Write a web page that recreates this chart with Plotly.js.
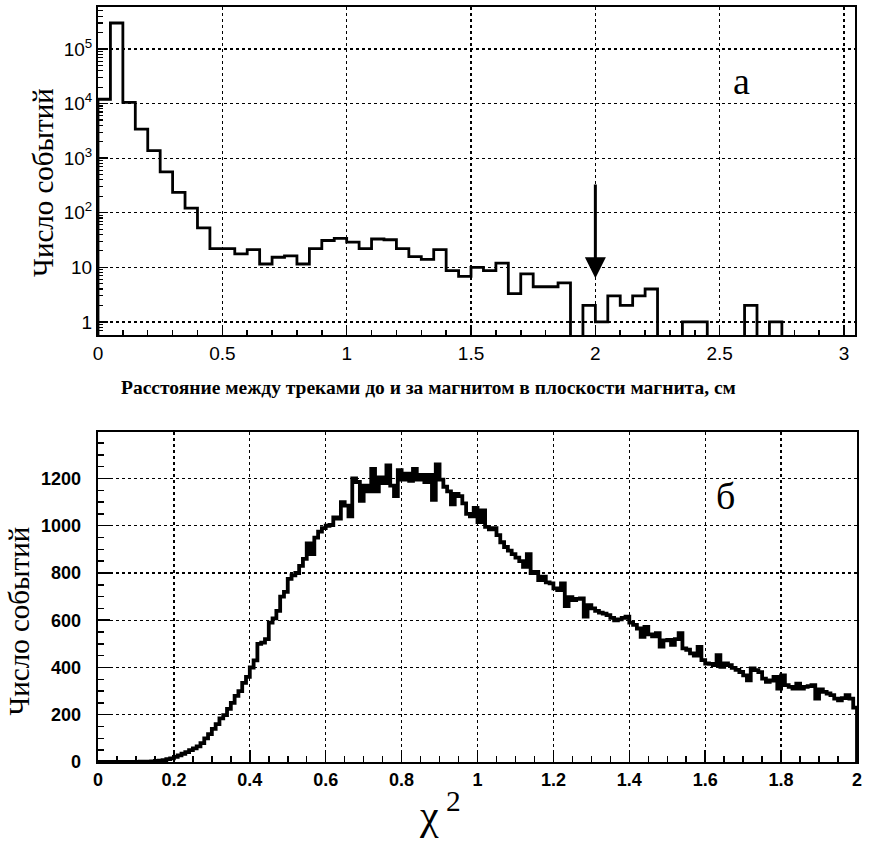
<!DOCTYPE html>
<html>
<head>
<meta charset="utf-8">
<script src="https://cdn.plot.ly/plotly-3.0.1.min.js"></script>
<style>
  html, body { margin: 0; padding: 0; background: #fff; }
  #chart { width: 872px; height: 843px; }
</style>
</head>
<body>
<div id="chart"></div>
<script>
// ---------- Panel (а): track distance histogram, log scale ----------
const topBinStart = 0;
const topBinWidth = 0.05;
const topCounts = [
  12000, 300000, 10500, 3400, 1370, 560, 237, 121, 53, 22,
  22, 17.6, 21, 11.5, 15.3, 16.2, 11.5, 22, 31, 34,
  29, 22, 33, 32, 22, 15.7, 14, 21, 8.7, 6.8,
  10, 8.7, 11.9, 3.3, 7.6, 4.4, 4.4, 5.2, 0, 2,
  1, 3, 2, 3, 4, 0, 0, 1, 1, 0,
  0, 0, 2, 0, 1, 0, 0, 0, 0, 0
];
const topYTickVals = [1, 10, 100, 1000, 10000, 100000];
const topYTickText = ['1', '10', '10<sup>2</sup>', '10<sup>3</sup>', '10<sup>4</sup>', '10<sup>5</sup>'];
const topXTickVals = [0, 0.5, 1, 1.5, 2, 2.5, 3];
const topXTickText = ['0', '0.5', '1', '1.5', '2', '2.5', '3'];
const arrowX = 2.0;
const arrowFrom = 350;
const arrowTo = 6.3;

// ---------- Panel (б): chi-square histogram ----------
const botBinStart = 0;
const botBinWidth = 0.01;
const botCounts = [
  0, 0, 0, 0, 0, 0, 0, 0, 0, 0,
  0, 1, 1, 2, 3, 5, 6, 8, 12, 15,
  22, 28, 35, 42, 50, 58, 66, 80, 100, 118,
  140, 160, 185, 198, 225, 250, 280, 300, 335, 360,
  400, 430, 500, 505, 520, 590, 608, 640, 700, 720,
  775, 790, 800, 830, 860, 925, 880, 950, 975, 990,
  1000, 1003, 1035, 1030, 1100, 1085, 1040, 1200, 1185, 1105,
  1170, 1145, 1240, 1145, 1205, 1180, 1255, 1170, 1125, 1235,
  1195, 1220, 1190, 1240, 1195, 1215, 1185, 1215, 1110, 1260,
  1195, 1165, 1145, 1090, 1135, 1125, 1095, 1050, 1040, 1075,
  1015, 1065, 995, 985, 990, 960, 930, 910, 895, 880,
  865, 850, 826, 880, 800, 805, 770, 785, 760, 756,
  735, 728, 756, 660, 698, 685, 690, 692, 615, 664,
  650, 640, 632, 628, 622, 610, 600, 604, 610, 615,
  590, 580, 565, 530, 572, 540, 532, 545, 488, 515,
  517, 496, 520, 545, 481, 475, 460, 450, 487, 431,
  417, 415, 410, 452, 403, 417, 410, 398, 390, 381,
  367, 346, 396, 389, 380, 353, 339, 345, 360, 311,
  367, 325, 318, 311, 332, 311, 318, 321, 325, 268,
  307, 297, 290, 283, 268, 261, 270, 283, 268, 230
];
const botXTickVals = [0, 0.2, 0.4, 0.6, 0.8, 1, 1.2, 1.4, 1.6, 1.8, 2];
const botXTickText = ['0', '0.2', '0.4', '0.6', '0.8', '1', '1.2', '1.4', '1.6', '1.8', '2'];
const botYTickVals = [0, 200, 400, 600, 800, 1000, 1200];
const botYTickText = ['0', '200', '400', '600', '800', '1000', '1200'];

const yTitle = 'Число событий';
const topXTitle = 'Расстояние между треками до и за магнитом в плоскости магнита, см';
const labelA = 'а';
const labelB = 'б';
const chiTitle = 'χ<sup> 2</sup>';

// Build step outline (histogram contour) from bin contents.
function stepOutline(start, width, counts, floorVal) {
  const xs = [start], ys = [floorVal];
  for (let i = 0; i < counts.length; i++) {
    xs.push(start + i * width);
    ys.push(counts[i] > 0 ? counts[i] : floorVal);
  }
  const end = start + counts.length * width;
  xs.push(end); ys.push(floorVal);
  return { xs, ys };
}

const topStep = stepOutline(topBinStart, topBinWidth, topCounts, 0.05);
const botStep = stepOutline(botBinStart, botBinWidth, botCounts, 0);

const traces = [
  {
    x: topStep.xs, y: topStep.ys, xaxis: 'x', yaxis: 'y',
    type: 'scatter', mode: 'lines',
    line: { shape: 'hv', color: '#000', width: 2.8 },
    hoverinfo: 'skip', showlegend: false
  },
  {
    x: botStep.xs, y: botStep.ys, xaxis: 'x2', yaxis: 'y3',
    type: 'scatter', mode: 'lines',
    line: { shape: 'hv', color: '#000', width: 3.8 },
    hoverinfo: 'skip', showlegend: false
  }
];

const serif = 'Liberation Serif, Times New Roman, serif';
const sans = 'Liberation Sans, Arial, Helvetica, sans-serif';

const axisCommon = {
  showline: true, linecolor: '#000', linewidth: 2, mirror: true,
  showgrid: true, gridcolor: '#000', gridwidth: 1.3, griddash: 'dot',
  zeroline: false, ticks: 'inside', tickcolor: '#000', tickwidth: 1.5,
  tickmode: 'array'
};

const botYRange = [0, 1398];

const layout = {
  width: 872, height: 843,
  paper_bgcolor: '#fff', plot_bgcolor: '#fff',
  margin: { l: 97.5, r: 14.5, t: 7, b: 81 },
  font: { family: sans, color: '#000' },
  showlegend: false,
  xaxis: Object.assign({}, axisCommon, {
    domain: [0, 0.998], anchor: 'y',
    range: [0, 3.046],
    tickvals: topXTickVals, ticktext: topXTickText,
    ticklen: 10,
    tickfont: { family: sans, size: 19, color: '#000' },
    minor: { dtick: 0.1, tick0: 0, ticks: 'inside', ticklen: 5, tickcolor: '#000', tickwidth: 1.5, showgrid: false }
  }),
  yaxis: Object.assign({}, axisCommon, {
    domain: [0.5656, 1], anchor: 'x', type: 'log',
    range: [-0.24, 5.77],
    tickvals: topYTickVals, ticktext: topYTickText,
    ticklen: 10,
    tickfont: { family: sans, size: 19, color: '#000' },
    minor: { dtick: 'D1', ticks: 'inside', ticklen: 5, tickcolor: '#000', tickwidth: 1.2, showgrid: false }
  }),
  xaxis2: Object.assign({}, axisCommon, {
    domain: [0, 1], anchor: 'y2',
    range: [0, 2],
    tickvals: botXTickVals, ticktext: botXTickText,
    ticklen: 12,
    tickfont: { family: sans, size: 18, color: '#000', weight: 'bold' },
    minor: { dtick: 0.05, tick0: 0, ticks: 'inside', ticklen: 6, tickcolor: '#000', tickwidth: 1.5, showgrid: false }
  }),
  yaxis2: Object.assign({}, axisCommon, {
    domain: [0, 0.4375], anchor: 'x2',
    range: botYRange,
    tickvals: botYTickVals, ticktext: botYTickText,
    showticklabels: false,
    ticklen: 12,
    minor: { dtick: 50, tick0: 0, ticks: 'inside', ticklen: 6, tickcolor: '#000', tickwidth: 1.5, showgrid: false }
  }),
  // label-only axis overlaying yaxis2, shifted left to match the reference's label gap
  yaxis3: {
    overlaying: 'y2', anchor: 'free', position: 0, side: 'left', shift: -17,
    range: botYRange, tickmode: 'array', tickvals: botYTickVals, ticktext: botYTickText,
    showline: false, showgrid: false, zeroline: false, ticks: '',
    tickfont: { family: sans, size: 18, color: '#000', weight: 'bold' }
  },
  annotations: [
    {
      xref: 'x', yref: 'y', axref: 'x', ayref: 'y',
      x: arrowX, y: Math.log10(arrowTo), ax: arrowX, ay: Math.log10(arrowFrom),
      showarrow: true, arrowhead: 2, arrowsize: 1.4, arrowwidth: 3, arrowcolor: '#000', text: ''
    },
    {
      xref: 'x', yref: 'y', x: 2.588, y: 4.41, text: labelA, showarrow: false,
      font: { family: serif, size: 38, color: '#000' }, xanchor: 'center', yanchor: 'middle'
    },
    {
      xref: 'x2', yref: 'y2', x: 1.654, y: 1126, text: labelB, showarrow: false,
      font: { family: serif, size: 38, color: '#000' }, xanchor: 'center', yanchor: 'middle'
    },
    {
      xref: 'paper', yref: 'paper', x: 0.436, y: 0.4954, text: '<b>' + topXTitle + '</b>', showarrow: false,
      font: { family: serif, size: 19.5, color: '#000' }, xanchor: 'center', yanchor: 'middle'
    },
    {
      xref: 'paper', yref: 'paper', x: -0.0724, y: 0.767, text: yTitle, showarrow: false, textangle: -90,
      font: { family: serif, size: 29, color: '#000' }, xanchor: 'center', yanchor: 'middle'
    },
    {
      xref: 'paper', yref: 'paper', x: -0.1046, y: 0.1868, text: yTitle, showarrow: false, textangle: -90,
      font: { family: serif, size: 29, color: '#000' }, xanchor: 'center', yanchor: 'middle'
    },
    {
      xref: 'paper', yref: 'paper', x: 0.4507, y: -0.066, text: chiTitle, showarrow: false,
      font: { family: serif, size: 42, color: '#000' }, xanchor: 'center', yanchor: 'middle'
    }
  ]
};

Plotly.newPlot('chart', traces, layout, { displayModeBar: false, staticPlot: true });
</script>
</body>
</html>
